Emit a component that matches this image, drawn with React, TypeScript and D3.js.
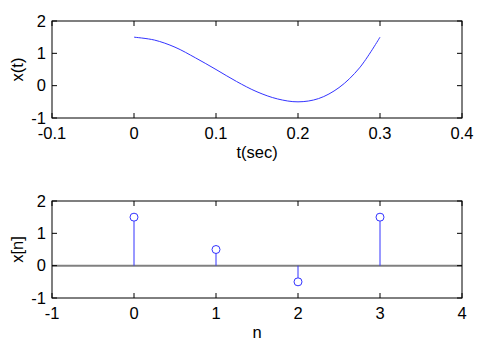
import React from "react";
import * as d3 from "d3";

// Continuous signal x(t)
const tValues = [0, 0.025, 0.05, 0.075, 0.1, 0.125, 0.15, 0.175, 0.2, 0.225, 0.25, 0.275, 0.3];
const xtValues = [1.5, 1.41, 1.19, 0.86, 0.5, 0.13, -0.19, -0.41, -0.5, -0.4, -0.06, 0.55, 1.5];

// Discrete samples x[n]
const nValues = [0, 1, 2, 3];
const xnValues = [1.5, 0.5, -0.5, 1.5];

const topXTicks = [-0.1, 0, 0.1, 0.2, 0.3, 0.4];
const topYTicks = [-1, 0, 1, 2];
const botXTicks = [-1, 0, 1, 2, 3, 4];
const botYTicks = [-1, 0, 1, 2];

const FONT = "'Liberation Sans', Arial, sans-serif";
const FS = 16.5;
const BLUE = "#3333ff";
const TICK = 5;

function Axes({
  x, y, xTicks, yTicks, xFmt, xLabel, yLabel, top, bottom, left, right,
}: any) {
  return (
    <g>
      <rect x={left} y={top} width={right - left} height={bottom - top} fill="none" stroke="#000" strokeWidth={1} />
      {xTicks.map((t: number, i: number) => (
        <g key={"x" + i}>
          <line x1={x(t)} x2={x(t)} y1={bottom} y2={bottom - TICK} stroke="#000" />
          <line x1={x(t)} x2={x(t)} y1={top} y2={top + TICK} stroke="#000" />
          <text x={x(t)} y={bottom + 21} textAnchor="middle" fontSize={FS} fontFamily={FONT} fill="#000">
            {xFmt(t)}
          </text>
        </g>
      ))}
      {yTicks.map((t: number, i: number) => (
        <g key={"y" + i}>
          <line x1={left} x2={left + TICK} y1={y(t)} y2={y(t)} stroke="#000" />
          <line x1={right} x2={right - TICK} y1={y(t)} y2={y(t)} stroke="#000" />
          <text x={left - 6} y={y(t) + 5.5} textAnchor="end" fontSize={FS} fontFamily={FONT} fill="#000">
            {String(t)}
          </text>
        </g>
      ))}
      <text x={(left + right) / 2} y={bottom + 40} textAnchor="middle" fontSize={FS} fontFamily={FONT} fill="#000">
        {xLabel}
      </text>
      <text
        transform={`translate(${left - 29},${(top + bottom) / 2}) rotate(-90)`}
        textAnchor="middle"
        fontSize={FS}
        fontFamily={FONT}
        fill="#000"
      >
        {yLabel}
      </text>
    </g>
  );
}

export default function App() {
  const W = 485, H = 344;
  const left = 52, right = 462;

  // Top plot
  const tTop = 21, tBot = 118;
  const xT = d3.scaleLinear().domain([-0.1, 0.4]).range([left, right]);
  const yT = d3.scaleLinear().domain([-1, 2]).range([tBot, tTop]);
  const lineGen = d3
    .line<number>()
    .x((_, i) => xT(tValues[i]))
    .y((d) => yT(d))
    .curve(d3.curveCatmullRom.alpha(0.5));

  // Bottom plot
  const bTop = 201, bBot = 298;
  const xB = d3.scaleLinear().domain([-1, 4]).range([left, right]);
  const yB = d3.scaleLinear().domain([-1, 2]).range([bBot, bTop]);

  return (
    <svg width={W} height={H} style={{ position: "absolute", left: 0, top: 0, background: "#fff" }}>
      <rect width={W} height={H} fill="#fff" />
      <Axes
        x={xT} y={yT} xTicks={topXTicks} yTicks={topYTicks}
        xFmt={(t: number) => (t === 0 ? "0" : String(t))}
        xLabel="t(sec)" yLabel="x(t)"
        top={tTop} bottom={tBot} left={left} right={right}
      />
      <path d={lineGen(xtValues) || ""} fill="none" stroke={BLUE} strokeWidth={1} />

      <line x1={left} x2={right} y1={yB(0)} y2={yB(0)} stroke="#808080" strokeWidth={2} />
      <Axes
        x={xB} y={yB} xTicks={botXTicks} yTicks={botYTicks}
        xFmt={(t: number) => String(t)}
        xLabel="n" yLabel="x[n]"
        top={bTop} bottom={bBot} left={left} right={right}
      />
      {nValues.map((n, i) => (
        <g key={n}>
          <line x1={xB(n)} x2={xB(n)} y1={yB(0)} y2={yB(xnValues[i])} stroke={BLUE} strokeWidth={1} />
          <circle cx={xB(n)} cy={yB(xnValues[i])} r={4} fill="#fff" stroke={BLUE} strokeWidth={1} />
        </g>
      ))}
    </svg>
  );
}
